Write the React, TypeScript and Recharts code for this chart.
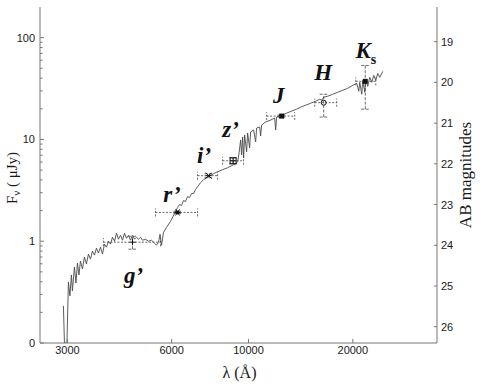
import { ComposedChart, ErrorBar, Line, ReferenceDot, Scatter, XAxis, YAxis } from "recharts";

// ---------------------------------------------------------------------------
// Data: model SED (wavelength in Å, F_nu in μJy) and broad-band photometry
// ---------------------------------------------------------------------------

const spectrum: [number, number][] = [
  [2921, 0.232], [2941, 0.1], [2990, 0.1], [3020, 0.398], [3050, 0.291],
  [3081, 0.466], [3101, 0.325], [3143, 0.558], [3175, 0.389], [3206, 0.61],
  [3239, 0.466], [3271, 0.638], [3315, 0.533], [3359, 0.698], [3404, 0.597],
  [3450, 0.747], [3496, 0.667], [3543, 0.799], [3591, 0.73], [3639, 0.855],
  [3687, 0.764], [3737, 0.874], [3787, 0.747], [3838, 0.935], [3889, 0.874],
  [3941, 1.0], [3994, 0.935], [4047, 1.094], [4102, 1.0], [4157, 1.197],
  [4212, 1.046], [4269, 1.144], [4326, 1.023], [4384, 1.197], [4443, 1.07],
  [4502, 1.144], [4563, 1.023], [4624, 1.144], [4686, 1.046], [4748, 1.094],
  [4812, 1.046], [4877, 1.094], [4942, 1.023], [5041, 1.046], [5143, 1.0],
  [5247, 1.023], [5353, 0.956], [5424, 0.914], [5497, 0.978], [5552, 1.17],
  [5608, 0.914], [5683, 1.224], [5798, 1.37], [5954, 1.567], [6115, 1.876],
  [6238, 2.146], [6322, 2.296], [6406, 2.245], [6492, 2.512], [6579, 2.456],
  [6667, 2.748], [6757, 2.687], [6847, 2.94], [6939, 2.94], [7032, 3.216],
  [7126, 3.44], [7270, 3.764], [7416, 4.026], [7566, 4.211], [7718, 4.405],
  [7927, 4.607], [8141, 4.819], [8416, 5.04], [8701, 5.272], [8935, 5.514],
  [9176, 5.767], [9299, 6.032], [9393, 7.384], [9487, 9.888], [9550, 7.06],
  [9614, 10.58], [9678, 6.599], [9743, 11.06], [9873, 7.552], [9939, 11.57],
  [10072, 8.262], [10140, 11.84], [10344, 12.38], [10483, 9.454], [10553, 12.95],
  [10766, 13.24], [10838, 10.82], [10910, 13.85], [11204, 14.82], [11583, 15.5],
  [11896, 16.21], [11975, 12.38], [12055, 16.58], [12463, 17.34], [12885, 18.14],
  [13321, 18.97], [13771, 19.84], [14143, 20.75], [14621, 21.71], [15116, 22.7],
  [15628, 23.75], [16049, 24.84], [16264, 24.28], [16482, 25.98], [16927, 26.57],
  [17499, 27.79], [18091, 29.07], [18704, 30.4], [19337, 31.8], [19991, 34.02],
  [20530, 35.58], [20805, 29.73], [20944, 36.39], [21225, 27.79], [21366, 38.07],
  [21653, 29.07], [21797, 38.93], [22089, 33.26], [22385, 40.72], [22685, 36.39],
  [22989, 42.59], [23297, 38.07], [23609, 44.55], [23926, 40.72], [24408, 46.6],
];

const bands = ["g’", "r’", "i’", "z’", "J", "H", "Ks"];
const bandWave = [4624, 6238, 7667, 9025, 12463, 16482, 21725];
const bandFlux = [0.978, 1.918, 4.405, 6.17, 16.95, 22.96, 37.22];
// [below, above] offsets, as ErrorBar wants them
const bandWaveErr: [number, number][] = [
  [813, 946], [851, 887], [541, 474], [609, 653], [1184, 1126], [958, 1490], [1330, 1572],
];
const bandFluxErr: [number, number][] = [
  [0.143, 0.141], [0.05, 0.05], [0.19, 0.2], [0.4, 0.43], [0.4, 0.4], [6.38, 4.83], [17.38, 16.1],
];
const bandMarker = ["plus", "star", "cross", "boxcross", "square", "circle", "square"];

// where each band name sits (centre of word, baseline), in data units
const labelWave = [4656, 6014, 7441, 8876, 12217, 16427, 21800];
const labelFlux = [0.389, 2.401, 5.898, 10.58, 22.7, 38.07, 62.4];

const waveTicks = [3000, 6000, 10000, 20000];
const fluxMajor = [0.1, 1, 10, 100];
const fluxMajorLabels = ["0", "1", "10", "100"];
const fluxMinor = [0.1, 1, 10].flatMap((d) => [2, 3, 4, 5, 6, 7, 8, 9].map((k) => +(k * d).toFixed(2)));
const abMags = [19, 20, 21, 22, 23, 24, 25, 26];

// ---------------------------------------------------------------------------

const FRAME = "#777";
const INK = "#1a1a1a";
const SANS = "'Liberation Sans', Arial, sans-serif";
const SERIF = "'Liberation Serif', 'Times New Roman', serif";

// AB mag -> μJy so the right axis shares the flux scale
const abFlux = abMags.map((m) => 10 ** ((23.9 - m) / 2.5));

const spectrumRows = spectrum.map(([wl, flux]) => ({ wl, flux }));
const photometry = bands.map((band, i) => ({
  band,
  wl: bandWave[i],
  flux: bandFlux[i],
  wlErr: bandWaveErr[i],
  fluxErr: bandFluxErr[i],
  marker: bandMarker[i],
}));

const tickText = { fontSize: 11, fontFamily: SANS, fill: INK, stroke: "none" };

function FluxTick({ x, y, payload }: any) {
  const i = fluxMajor.indexOf(payload.value);
  const major = i >= 0;
  return (
    <g>
      <line x1={x} x2={x + (major ? 4 : 2.5)} y1={y} y2={y} stroke={FRAME} />
      {major && (
        <text x={x - 5} y={y + 4} textAnchor="end" style={tickText}>
          {fluxMajorLabels[i]}
        </text>
      )}
    </g>
  );
}

function MagTick({ x, y, payload }: any) {
  const i = abFlux.indexOf(payload.value);
  return (
    <g>
      <line x1={x} x2={x - 3} y1={y} y2={y} stroke={FRAME} />
      <text x={x + 4} y={y + 4} textAnchor="start" style={tickText}>
        {abMags[i]}
      </text>
    </g>
  );
}

function WaveTick({ x, y, payload }: any) {
  return (
    <g>
      <line x1={x} x2={x} y1={y} y2={y - 4} stroke={FRAME} />
      <text x={x} y={y + 11} textAnchor="middle" style={tickText}>
        {payload.value}
      </text>
    </g>
  );
}

function TopTick({ x, y }: any) {
  return <line x1={x} x2={x} y1={y} y2={y + 4} stroke={FRAME} />;
}

function FluxTitle({ viewBox }: any) {
  const cy = viewBox.y + viewBox.height / 2;
  return (
    <text transform={`translate(${viewBox.x + 17}, ${cy + 3}) rotate(-90)`} textAnchor="middle"
      fontSize={15} fontFamily={SERIF} fill={INK}>
      F<tspan fontSize={11} dy={3}>ν</tspan>
      <tspan dy={-3}> ( μJy)</tspan>
    </text>
  );
}

function MagTitle({ viewBox }: any) {
  const cy = viewBox.y + viewBox.height / 2;
  return (
    <text transform={`translate(${viewBox.x + 34}, ${cy}) rotate(-90)`} textAnchor="middle"
      fontSize={17} fontFamily={SERIF} fill={INK}>
      AB magnitudes
    </text>
  );
}

function WaveTitle({ viewBox }: any) {
  return (
    <text x={viewBox.x + viewBox.width / 2 + 1} y={viewBox.y + 35} textAnchor="middle"
      fontSize={16} fontFamily={SERIF} fill={INK}>
      λ (Å)
    </text>
  );
}

// photometric point symbols
function BandMarker({ cx, cy, payload }: any) {
  const s = { stroke: "#111", strokeWidth: 1 };
  switch (payload.marker) {
    case "plus":
      return (
        <g {...s}>
          <line x1={cx - 3} x2={cx + 3} y1={cy} y2={cy} />
          <line x1={cx} x2={cx} y1={cy - 3} y2={cy + 3} />
        </g>
      );
    case "star":
      return (
        <g {...s}>
          <line x1={cx - 3} x2={cx + 3} y1={cy} y2={cy} />
          <line x1={cx - 2} x2={cx + 2} y1={cy - 3} y2={cy + 3} />
          <line x1={cx + 2} x2={cx - 2} y1={cy - 3} y2={cy + 3} />
          <circle cx={cx} cy={cy} r={1.5} fill="#111" />
        </g>
      );
    case "cross":
      return (
        <g {...s}>
          <line x1={cx - 3} x2={cx + 3} y1={cy - 3} y2={cy + 3} />
          <line x1={cx - 3} x2={cx + 3} y1={cy + 3} y2={cy - 3} />
          <line x1={cx - 3} x2={cx + 3} y1={cy} y2={cy} />
        </g>
      );
    case "boxcross":
      return (
        <g {...s} fill="none">
          <rect x={cx - 3} y={cy - 3} width={6} height={6} />
          <line x1={cx - 3} x2={cx + 3} y1={cy} y2={cy} />
          <line x1={cx} x2={cx} y1={cy - 3} y2={cy + 3} />
        </g>
      );
    case "square":
      return <rect x={cx - 2.5} y={cy - 2.5} width={5} height={5} fill="#111" />;
    case "circle":
      return <circle cx={cx} cy={cy} r={2.5} fill="none" {...s} />;
    default:
      return null;
  }
}

function BandName({ cx, cy, name }: any) {
  const common = {
    fontFamily: SERIF,
    fontWeight: 700,
    fontStyle: "italic",
    fontSize: 23,
    fill: "#111",
    textAnchor: "middle" as const,
  };
  if (name === "Ks") {
    return (
      <text x={cx} y={cy} {...common}>
        K<tspan fontSize={14} fontStyle="normal" dy={6}>s</tspan>
      </text>
    );
  }
  return (
    <text x={cx} y={cy} {...common}>
      {name}
    </text>
  );
}

export default function App() {
  return (
    <div style={{ position: "absolute", left: 0, top: 0, width: 480, height: 389, background: "#fff" }}>
      <ComposedChart width={480} height={389} margin={{ top: 7, right: 0, bottom: 0, left: 0 }}>
        <XAxis
          xAxisId="wave"
          dataKey="wl"
          type="number"
          scale="log"
          domain={[2500, 35000]}
          allowDataOverflow
          ticks={waveTicks}
          interval={0}
          height={46}
          tickSize={0}
          tickMargin={0}
          tickLine={false}
          tick={WaveTick}
          axisLine={{ stroke: FRAME }}
          label={WaveTitle}
        />
        <XAxis
          xAxisId="top"
          orientation="top"
          dataKey="wl"
          type="number"
          scale="log"
          domain={[2500, 35000]}
          allowDataOverflow
          ticks={waveTicks}
          interval={0}
          height={0}
          tickSize={0}
          tickMargin={0}
          tickLine={false}
          tick={TopTick}
          axisLine={{ stroke: FRAME }}
        />
        <YAxis
          yAxisId="flux"
          type="number"
          scale="log"
          domain={[0.1, 200]}
          allowDataOverflow
          ticks={[...fluxMajor, ...fluxMinor]}
          interval={0}
          width={40}
          tickSize={0}
          tickMargin={0}
          tickLine={false}
          tick={FluxTick}
          axisLine={{ stroke: FRAME }}
          label={FluxTitle}
        />
        <YAxis
          yAxisId="mag"
          orientation="right"
          type="number"
          scale="log"
          domain={[0.1, 200]}
          allowDataOverflow
          ticks={abFlux}
          interval={0}
          width={43}
          tickSize={0}
          tickMargin={0}
          tickLine={false}
          tick={MagTick}
          axisLine={{ stroke: FRAME }}
          label={MagTitle}
        />

        <Line
          xAxisId="wave"
          yAxisId="flux"
          data={spectrumRows}
          dataKey="flux"
          type="linear"
          stroke="#4a4a4a"
          strokeWidth={0.9}
          dot={false}
          activeDot={false}
          isAnimationActive={false}
        />

        <Scatter
          xAxisId="wave"
          yAxisId="flux"
          data={photometry}
          dataKey="flux"
          shape={BandMarker}
          isAnimationActive={false}
        >
          <ErrorBar dataKey="wlErr" direction="x" width={4} stroke="#444" strokeWidth={0.8} strokeDasharray="2 1.5" />
          <ErrorBar dataKey="fluxErr" direction="y" width={4} stroke="#444" strokeWidth={0.8} strokeDasharray="3 1.5" />
        </Scatter>

        {bands.map((b, i) => (
          <ReferenceDot
            key={b}
            xAxisId="wave"
            yAxisId="flux"
            x={labelWave[i]}
            y={labelFlux[i]}
            r={0}
            shape={(p: any) => <BandName {...p} name={b} />}
          />
        ))}
      </ComposedChart>
    </div>
  );
}
